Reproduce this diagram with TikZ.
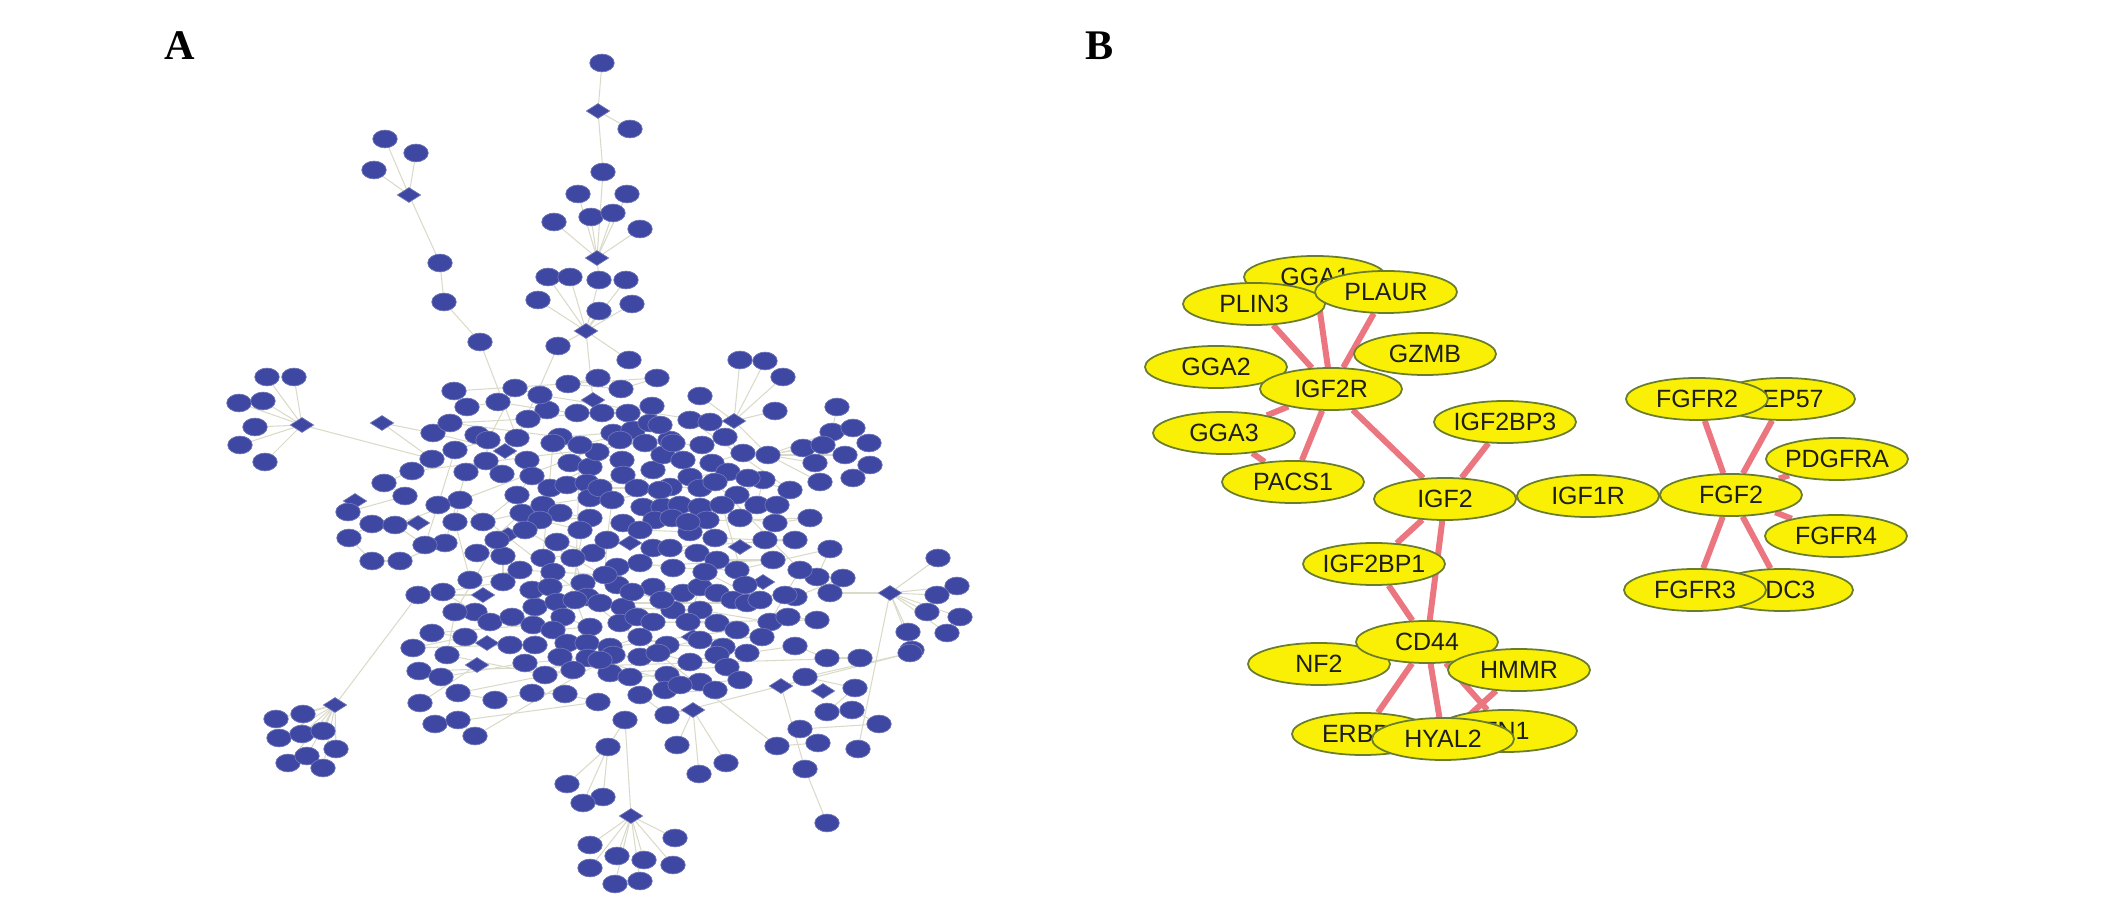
\documentclass[tikz,border=0pt]{standalone}
\usepackage{fontspec}
\setmainfont{Liberation Serif}
\newfontfamily\genefont{Liberation Sans}
\usetikzlibrary{shapes.geometric,backgrounds}

\definecolor{netblue}{RGB}{62,71,161}
\definecolor{netedge}{RGB}{218,218,200}
\definecolor{protfill}{RGB}{250,240,5}
\definecolor{protline}{RGB}{105,125,45}
\definecolor{linkred}{RGB}{236,118,128}
\definecolor{labelgray}{RGB}{30,30,30}

\newcommand{\gname}[1]{\makebox[0pt]{#1}}

\begin{document}
\begin{tikzpicture}[
    x=0.01cm, y=-0.01cm,
    gene/.style={ellipse, fill=netblue, draw=netblue!75!white, line width=0.2pt,
        minimum width=0.245cm, minimum height=0.178cm, inner sep=0pt},
    hub/.style={diamond, fill=netblue, draw=netblue!75!white, line width=0.2pt,
        minimum width=0.235cm, minimum height=0.15cm, inner sep=0pt},
    faint/.style={draw=netedge, line width=0.3pt},
    prot/.style={ellipse, fill=protfill, draw=protline, line width=0.5pt,
        minimum width=1.42cm, minimum height=0.42cm, inner sep=0pt,
        text=labelgray, font=\genefont\fontsize{7.1}{8}\selectfont},
    link/.style={draw=linkred, line width=1.7pt},
    panel/.style={font=\bfseries\fontsize{12}{14}\selectfont}
]

\useasboundingbox (0,0) rectangle (2124,907);

% Panel labels
\node[panel] (labA) at (180,46) {A};
\node[panel] (labB) at (1100,46) {B};

%%% Panel A: large network
% Hubs
\foreach \n/\x/\y in {d1/598/111, d2/409/195, d3/597/258, d4/586/331, d5/302/425,
    d6/382/423, d7/593/400, d8/734/421, d9/355/501, d10/418/523, d11/508/535,
    d12/483/595, d13/487/643, d14/505/451, d15/630/543, d16/740/547, d17/763/582,
    d18/693/637, d19/890/593, d20/477/665, d21/335/705, d22/693/710, d23/631/816,
    d24/781/686, d25/823/691}
    \node[hub] (\n) at (\x,\y) {};

% Outer nodes
\foreach \n/\x/\y in {tp/602/63, t2/630/129, t3/603/172, t4/578/194, t5/627/194,
    t6/591/217, t7/613/213, t8/554/222, t9/640/229, t10/548/277, t11/570/277,
    t12/599/280, t13/626/280, t14/538/300, t15/599/311, t16/632/304, t17/558/346,
    t18/629/360, l1/385/139, l2/416/153, l3/374/170, l4/440/263, l5/444/302,
    l6/480/342, k1/267/377, k2/294/377, k3/239/403, k4/263/401, k5/255/427,
    k6/240/445, k7/265/462, u1/740/360, u2/765/361, u3/783/377, u4/775/411,
    u5/700/396, u6/837/407, r1/832/432, r2/853/428, r3/869/443, r4/803/448,
    r5/823/445, r6/845/455, r7/815/463, r8/870/465, r9/820/482, r10/853/478,
    f1/938/558, f2/957/586, f3/937/595, f4/927/612, f5/960/617, f6/908/632,
    f7/947/633, f8/912/650, b1/276/719, b2/303/714, b3/279/738, b4/302/734,
    b5/323/731, b6/336/749, b7/288/763, b8/307/756, b9/323/768, m1/590/845,
    m2/590/868, m3/617/856, m4/644/860, m5/673/865, m6/675/838, m7/615/884,
    m8/640/881, n1/625/720, n2/608/747, n3/603/797, g1/827/823, g2/805/769,
    g3/699/774, g4/726/763, g5/677/745, e1/517/438, e2/432/459, e3/433/433,
    e4/418/595, e5/830/593, e6/768/455, e7/858/749, e8/567/784, e9/583/803,
    e10/420/703}
    \node[gene] (\n) at (\x,\y) {};

% Dense core
\foreach \x/\y [count=\i] in {598/378, 568/384, 621/389, 657/378, 454/391, 467/407,
    498/402, 547/410, 577/413, 602/413, 628/413, 652/406, 528/419, 450/423, 560/437,
    613/433, 633/430, 650/423, 670/440, 412/471, 384/483, 405/496, 348/512, 372/524,
    349/538, 372/561, 400/561, 445/543, 466/472, 486/461, 502/474, 477/435, 527/460,
    532/476, 517/495, 483/522, 522/513, 477/553, 503/556, 503/582, 443/592, 475/612,
    490/622, 512/617, 535/607, 533/625, 432/633, 465/637, 413/648, 510/645, 535/645,
    553/443, 570/463, 590/467, 550/488, 567/485, 587/483, 590/498, 543/505, 560/513,
    590/518, 540/520, 580/530, 557/542, 593/553, 543/558, 553/572, 573/558, 583/583,
    532/590, 550/587, 557/602, 587/597, 563/617, 590/627, 553/630, 567/643, 587/643,
    560/657, 597/452, 622/460, 623/475, 600/488, 637/488, 653/470, 663/455, 683/460,
    673/443, 645/443, 702/445, 725/437, 743/453, 712/463, 728/472, 690/477, 700/488,
    670/487, 643/507, 663/507, 680/505, 700/507, 655/520, 672/518, 707/520, 737/495,
    763/480, 757/505, 777/505, 740/518, 775/523, 810/518, 623/523, 640/530, 690/532,
    715/538, 765/540, 795/540, 653/548, 670/548, 697/553, 717/560, 773/560, 617/567,
    640/563, 673/568, 737/570, 830/549, 817/577, 843/578, 795/597, 617/585, 653/587,
    683/593, 700/587, 717/593, 733/600, 747/603, 600/603, 623/607, 673/610, 700/610,
    770/622, 788/617, 817/620, 620/623, 637/617, 653/622, 717/623, 737/630, 610/647,
    640/637, 667/645, 723/647, 747/653, 795/646, 827/658, 860/658, 419/671, 441/677,
    525/663, 588/658, 573/670, 458/693, 495/700, 532/693, 565/694, 598/702, 435/724,
    458/720, 475/736, 613/655, 640/657, 658/653, 690/662, 717/655, 727/667, 610/673,
    630/677, 667/675, 665/690, 700/682, 715/690, 640/695, 667/715, 910/653, 805/677,
    855/688, 827/712, 852/710, 879/724, 800/729, 818/743, 777/746, 460/500, 455/522,
    470/580, 520/570, 605/575, 607/540, 612/500, 660/490, 688/522, 722/505, 745/585,
    760/600, 705/572, 688/622, 662/600, 632/592, 525/530, 497/540, 455/612, 447/655,
    545/675, 700/640, 762/637, 785/595, 800/570, 715/482, 748/478, 790/490, 690/420,
    710/422, 540/395, 515/388, 488/440, 455/450, 438/505, 425/545, 395/525, 620/440,
    660/425, 580/445, 575/600, 600/660, 680/685, 740/680} {
    \node[gene] (c\i) at (\x,\y) {};
    \xdef\ncore{\i}
}

% Faint links
\begin{scope}[on background layer]
\foreach \a/\b in {tp/d1, d1/t2, d1/t3, t3/d3, t4/d3, t5/d3, t6/d3, t7/d3, t8/d3,
    t9/d3, d3/t12, t10/d4, t11/d4, t12/d4, t13/d4, t14/d4, t15/d4, t16/d4, d4/t17,
    d4/t18, d4/d7, t17/e1, l1/d2, l2/d2, l3/d2, d2/l4, l4/l5, l5/l6, l6/e1, k1/d5,
    k2/d5, k3/d5, k4/d5, k5/d5, k6/d5, k7/d5, d5/e2, d6/e3, d6/e2, b1/d21, b2/d21,
    b3/d21, b4/d21, b5/d21, b6/d21, b7/d21, b8/d21, b9/d21, d21/e4, m1/d23, m2/d23,
    m3/d23, m4/d23, m5/d23, m6/d23, m7/d23, m8/d23, d23/n1, n2/n1, n3/n2, e8/n2,
    e9/n2, u1/d8, u2/d8, u3/d8, u4/d8, d8/u5, d8/e6, u6/r1, r1/e6, r4/e6, r5/e6,
    r6/e6, r7/e6, r9/e6, r2/r3, r8/r10, f1/d19, f2/d19, f3/d19, f4/d19, f5/d19,
    f6/d19, f7/d19, f8/d19, d19/e5, d19/e7, g1/g2, g2/d24, g3/d22, g4/d22, g5/d22,
    e10/d20, e4/d12, e3/d14, e1/d14}
    \draw[faint] (\a) -- (\b);
\foreach \i [remember=\i as \j (initially 1)] in {2,...,\ncore}
    \draw[faint] (c\j) -- (c\i);
\end{scope}

%%% Panel B: sub-network
\node[prot] (gga1) at (1315,277) {\gname{GGA1}};
\node[prot] (plin3) at (1254,304) {\gname{PLIN3}};
\node[prot] (plaur) at (1386,292) {\gname{PLAUR}};
\node[prot] (gga2) at (1216,367) {\gname{GGA2}};
\node[prot] (gzmb) at (1425,354) {\gname{GZMB}};
\node[prot] (igf2r) at (1331,389) {\gname{IGF2R}};
\node[prot] (gga3) at (1224,433) {\gname{GGA3}};
\node[prot] (pacs1) at (1293,482) {\gname{PACS1}};
\node[prot] (igf2bp3) at (1505,422) {\gname{IGF2BP3}};
\node[prot] (igf2) at (1445,499) {\gname{IGF2}};
\node[prot] (igf1r) at (1588,496) {\gname{IGF1R}};
\node[prot] (fgf2) at (1731,495) {\gname{FGF2}};
\node[prot] (cep57) at (1784,399) {\gname{CEP57}};
\node[prot] (fgfr2) at (1697,399) {\gname{FGFR2}};
\node[prot] (pdgfra) at (1837,459) {\gname{PDGFRA}};
\node[prot] (fgfr4) at (1836,536) {\gname{FGFR4}};
\node[prot] (sdc3) at (1782,590) {\gname{SDC3}};
\node[prot] (fgfr3) at (1695,590) {\gname{FGFR3}};
\node[prot] (igf2bp1) at (1374,564) {\gname{IGF2BP1}};
\node[prot] (nf2) at (1319,664) {\gname{NF2}};
\node[prot] (cd44) at (1427,642) {\gname{CD44}};
\node[prot] (hmmr) at (1519,670) {\gname{HMMR}};
\node[prot] (erbb2) at (1363,734) {\gname{ERBB2}};
\node[prot] (fn1) at (1506,731) {\gname{FN1}};
\node[prot] (hyal2) at (1443,739) {\gname{HYAL2}};

\begin{scope}[on background layer]
\foreach \a/\b in {igf2r/plin3, igf2r/gga1, igf2r/plaur, igf2r/gga3, igf2r/pacs1,
    gga3/pacs1, igf2r/igf2, igf2/igf2bp3, igf2/igf1r, igf1r/fgf2, igf2/igf2bp1,
    igf2/cd44, igf2bp1/cd44, cd44/erbb2, cd44/hyal2, cd44/fn1, hmmr/hyal2,
    fgf2/fgfr2, fgf2/cep57, fgf2/pdgfra, fgf2/fgfr4, fgf2/fgfr3, fgf2/sdc3}
    \draw[link] (\a) -- (\b);
\end{scope}

\end{tikzpicture}
\end{document}
